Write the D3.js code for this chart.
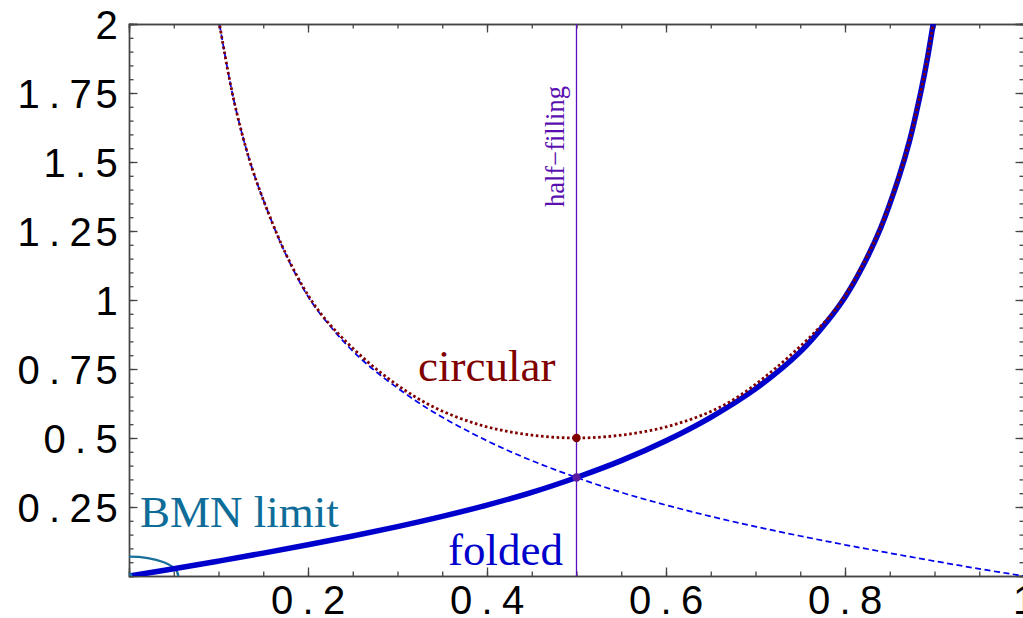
<!DOCTYPE html>
<html>
<head>
<meta charset="utf-8">
<script src="https://cdn.jsdelivr.net/npm/d3@7"></script>
<style>
  html, body { margin: 0; padding: 0; background: #fff; }
  svg { display: block; }
</style>
</head>
<body>
<div id="chart"></div>
<script>
// valores (fração de preenchimento x energia)
const foldedX = [0, 0.05, 0.1, 0.15, 0.2, 0.25, 0.3, 0.35, 0.4, 0.45, 0.5, 0.55, 0.6, 0.65, 0.7, 0.75, 0.78, 0.8, 0.82, 0.84, 0.86, 0.872, 0.885, 0.892, 0.9];
const foldedY = [0, 0.026, 0.054, 0.083, 0.113, 0.145, 0.179, 0.216, 0.257, 0.303, 0.357, 0.418, 0.49, 0.575, 0.678, 0.812, 0.922, 1.01, 1.123, 1.262, 1.443, 1.575, 1.758, 1.874, 2.03];

const dashedX = [0.0995, 0.1167, 0.1353, 0.154, 0.176, 0.2025, 0.2275, 0.25, 0.28, 0.3356, 0.4, 0.45, 0.5, 0.55, 0.6, 0.65, 0.7, 0.75, 0.8, 0.85, 0.9, 0.95, 1];
const dashedY = [2.03, 1.73, 1.5, 1.33, 1.16, 1.0, 0.895, 0.815, 0.73, 0.603, 0.49, 0.418, 0.357, 0.303, 0.257, 0.216, 0.179, 0.145, 0.113, 0.083, 0.054, 0.026, 0];

const circularX = [0.0995, 0.1167, 0.1353, 0.154, 0.176, 0.2025, 0.2275, 0.28, 0.3356, 0.3926, 0.444, 0.5, 0.556, 0.612, 0.668, 0.724, 0.78, 0.8, 0.828, 0.84, 0.86, 0.872, 0.885, 0.892, 0.9005];
const circularY = [2.03, 1.73, 1.5, 1.33, 1.162, 1.005, 0.9, 0.74, 0.62, 0.547, 0.513, 0.5, 0.513, 0.551, 0.625, 0.757, 0.93, 1.015, 1.18, 1.265, 1.446, 1.578, 1.76, 1.876, 2.04];

const halfFilling = 0.5;
const halfPoints = [[0.5, 0.5, '#800000'], [0.5, 0.357, '#5a1aa0']];

const xTickLabels = [0.2, 0.4, 0.6, 0.8, 1];
const yTickLabels = [0.25, 0.5, 0.75, 1, 1.25, 1.5, 1.75, 2];

const width = 1023, height = 618;

const x = d3.scaleLinear().domain([0, 1]).range([129, 1024]);
const y = d3.scaleLinear().domain([0, 2]).range([576, 24]);

const svg = d3.select('#chart').append('svg')
    .attr('width', width)
    .attr('height', height);

svg.append('clipPath').attr('id', 'plot')
    .append('rect')
    .attr('x', x(0)).attr('y', y(2))
    .attr('width', x(1) - x(0)).attr('height', y(0) - y(2));

const frameColor = '#444';

// moldura com ticks para dentro
const axes = [
    [d3.axisBottom, x, `translate(0,${y(0)})`, x.ticks(20), xTickLabels],
    [d3.axisTop, x, `translate(0,${y(2)})`, x.ticks(20), xTickLabels],
    [d3.axisLeft, y, `translate(${x(0)},0)`, y.ticks(40), yTickLabels],
    [d3.axisRight, y, `translate(${x(1)},0)`, y.ticks(40), yTickLabels]
];

axes.forEach(([mk, scale, tr, minor, major]) => {
    svg.append('g').attr('transform', tr)
        .call(mk(scale).tickValues(minor).tickSize(-4.5).tickFormat(''));
    svg.append('g').attr('transform', tr)
        .call(mk(scale).tickValues(major).tickSize(-8.5).tickFormat(''));
});

svg.selectAll('.domain').attr('stroke', frameColor).attr('stroke-width', 1.4);
svg.selectAll('.tick line').attr('stroke', frameColor).attr('stroke-width', 1.3);

// rótulos dos ticks, um caractere por célula (estilo monoespaçado)
const labelFont = '"Liberation Sans", Arial, sans-serif';
const cell = 26;

function charCenters(str, first) {
    return str.split('').map((c, i) => first + i * cell).join(' ');
}

svg.append('g').selectAll('text')
    .data(xTickLabels)
    .enter().append('text')
    .attr('x', d => charCenters(String(d), x(d) - (String(d).length - 1) / 2 * cell))
    .attr('y', 614)
    .attr('text-anchor', 'middle')
    .style('font-family', labelFont)
    .style('font-size', '40px')
    .attr('fill', '#000')
    .text(d => String(d));

svg.append('g').selectAll('text')
    .data(yTickLabels)
    .enter().append('text')
    .attr('x', d => charCenters(String(d), 106.5 - (String(d).length - 1) * cell))
    .attr('y', d => y(d) + 14.5)
    .attr('text-anchor', 'middle')
    .style('font-family', labelFont)
    .style('font-size', '40px')
    .attr('fill', '#000')
    .text(d => String(d));

const g = svg.append('g').attr('clip-path', 'url(#plot)');

const line = d3.line()
    .x(d => x(d[0]))
    .y(d => y(d[1]))
    .curve(d3.curveCatmullRom.alpha(0.5));

const zip = (xs, ys) => xs.map((v, i) => [v, ys[i]]);

// linha de meio preenchimento
g.append('line')
    .attr('x1', x(halfFilling)).attr('x2', x(halfFilling))
    .attr('y1', y(0)).attr('y2', y(2))
    .attr('stroke', '#5a10c0')
    .attr('stroke-width', 1.3);

// limite BMN (arco)
g.append('ellipse')
    .attr('cx', x(0)).attr('cy', y(0))
    .attr('rx', x(0.055) - x(0))
    .attr('ry', y(0) - y(0.07))
    .attr('fill', 'none')
    .attr('stroke', '#1a6e9a')
    .attr('stroke-width', 2.2);

g.append('path')
    .datum(zip(foldedX, foldedY))
    .attr('d', line)
    .attr('fill', 'none')
    .attr('stroke', '#0000cc')
    .attr('stroke-width', 5.5);

g.append('path')
    .datum(zip(dashedX, dashedY))
    .attr('d', line)
    .attr('fill', 'none')
    .attr('stroke', '#0000ee')
    .attr('stroke-width', 1.7)
    .attr('stroke-dasharray', '6,3.5');

g.append('path')
    .datum(zip(circularX, circularY))
    .attr('d', line)
    .attr('fill', 'none')
    .attr('stroke', '#800000')
    .attr('stroke-width', 2.8)
    .attr('stroke-dasharray', '2.6,2.6');

g.append('circle')
    .attr('cx', x(0)).attr('cy', y(0))
    .attr('r', 3.5)
    .attr('fill', '#1a6e9a');

g.selectAll('.ponto')
    .data(halfPoints)
    .enter().append('circle')
    .attr('class', 'ponto')
    .attr('cx', d => x(d[0]))
    .attr('cy', d => y(d[1]))
    .attr('r', 4.2)
    .attr('fill', d => d[2]);

// anotações
const serif = '"Liberation Serif", "DejaVu Serif", serif';

svg.append('text')
    .attr('x', 140).attr('y', 527)
    .style('font-family', serif).style('font-size', '45px')
    .attr('fill', '#0e6c99')
    .text('BMN limit');

svg.append('text')
    .attr('x', 418).attr('y', 381)
    .style('font-family', serif).style('font-size', '45px')
    .attr('fill', '#800000')
    .text('circular');

svg.append('text')
    .attr('x', 448).attr('y', 565)
    .style('font-family', serif).style('font-size', '45px')
    .attr('fill', '#0000cc')
    .text('folded');

svg.append('text')
    .attr('transform', 'translate(564,207) rotate(-90)')
    .style('font-family', serif).style('font-size', '26.5px')
    .attr('fill', '#5a10b0')
    .text('half\u2212filling');
</script>
</body>
</html>
